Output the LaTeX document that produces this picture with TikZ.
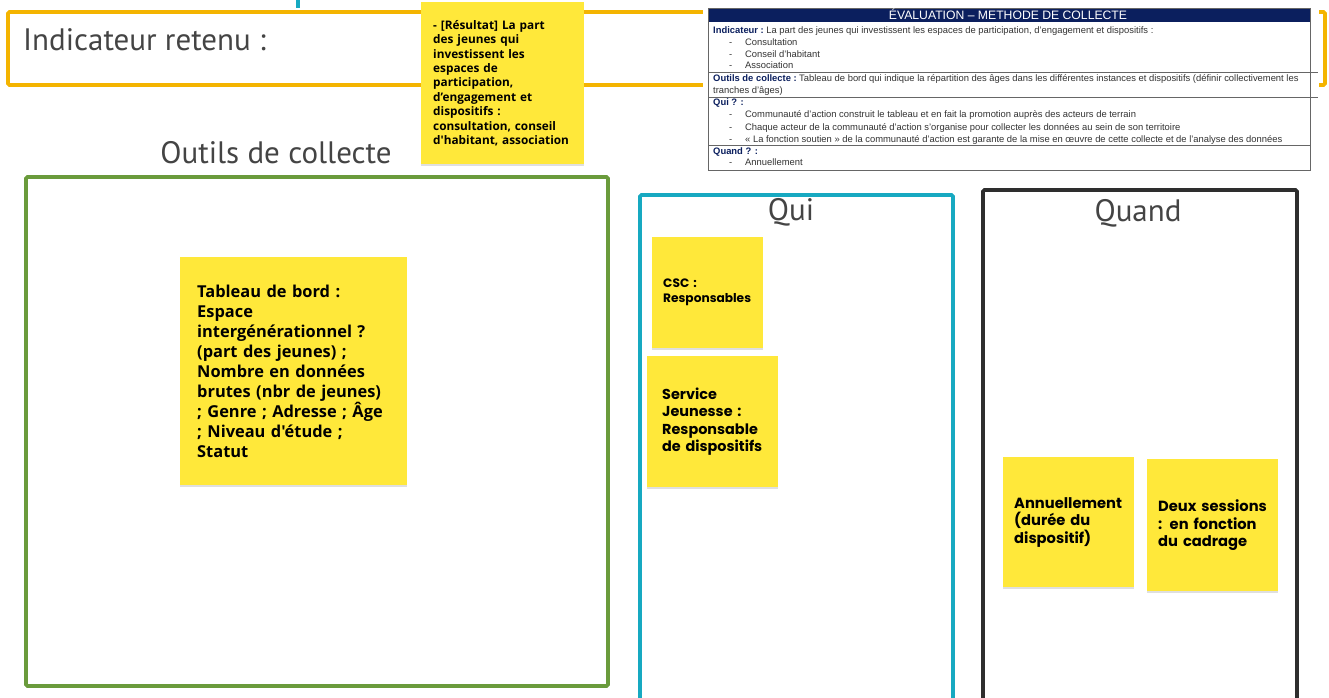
\documentclass[tikz,border=0pt]{standalone}
\usepackage{fontspec}
\setmainfont{Open Sans}
\newfontfamily\titrefont{PT Sans}
\newfontfamily\postfont{Poppins}
\newfontfamily\postfontb{Open Sans}
\newfontfamily\tabfont{Liberation Sans}
\usetikzlibrary{positioning, shadows}
\definecolor{jaune}{HTML}{FFE83A}
\definecolor{orangeC}{HTML}{F4B400}
\definecolor{vertC}{HTML}{6A9B3C}
\definecolor{bleuC}{HTML}{17A9C1}
\definecolor{noirC}{HTML}{2E2E2E}
\definecolor{marine}{HTML}{0B1F5E}
\definecolor{gris}{HTML}{444444}

\begin{document}
\begin{tikzpicture}[x=1pt, y=-1pt,
        cadre/.style={line width=3.6pt, rounded corners=1.5pt},
        titre/.style={text=gris, font=\titrefont\fontsize{31}{33}\selectfont, inner sep=0},
        post/.style={fill=jaune, anchor=north west, align=left, inner sep=0,
            execute at begin node={\hyphenpenalty=10000\relax},
            drop shadow={opacity=0.25, shadow xshift=0pt, shadow yshift=-1.5pt}},
        tx/.style={anchor=base west, inner sep=0, text=black!80, font=\tabfont\fontsize{9.4}{11}\selectfont},
        lab/.style={tx, text=marine, font=\tabfont\bfseries\fontsize{9.4}{11}\selectfont}]
        \useasboundingbox (0,0) rectangle (1329,697);
        \clip (0,0) rectangle (1329,697);

        % cadres
        \draw[bleuC, line width=3.6pt] (298,-2) -- (298,8);
        \draw[cadre, orangeC] (8,12) rectangle (1325,85);
        \draw[cadre, vertC] (26,177) rectangle (608,686);
        \draw[cadre, bleuC] (640,195) rectangle (953,720);
        \draw[cadre, noirC] (983,190) rectangle (1297,720);

        \draw node[titre, anchor=base west] (ind) at (23,50) {Indicateur retenu :};
        \draw node[titre, anchor=base] (outils) at (276,163) {Outils de collecte};
        \draw node[titre, anchor=base] (qui) at (791,220) {Qui};
        \draw node[titre, anchor=base] (quand) at (1138,221) {Quand};

        % tableau evaluation
        \fill[white] (703,5) rectangle (1319,173);
        \fill[marine] (708,8) rectangle (1310,22);
        \draw[gray!80!black, line width=0.8pt] (708,8) rectangle (1310,170);
        \draw[gray!80!black, line width=0.8pt] (708,72) -- (1318,72) (708,97) -- (1318,97) (708,145) -- (1310,145);
        \draw node[anchor=base, inner sep=0, text=white, font=\tabfont\fontsize{12.2}{13}\selectfont] (titre) at (1008,19.5) {ÉVALUATION – METHODE DE COLLECTE};

        \draw node[lab] (l1) at (713,33) {Indicateur :} node[tx, right=2pt of l1.base east, anchor=base west] {La part des jeunes qui investissent les espaces de participation, d’engagement et dispositifs :};
        \foreach \y/\t in {45/Consultation, 57/Conseil d’habitant, 68/Association, 117/Communauté d’action construit le tableau et en fait la promotion auprès des acteurs de terrain, 130/Chaque acteur de la communauté d’action s’organise pour collecter les données au sein de son territoire, 142/{« La fonction soutien » de la communauté d’action est garante de la mise en œuvre de cette collecte et de l’analyse des données}, 165/Annuellement}
        \draw node[tx] (d\y) at (729,\y) {-} node[tx] (b\y) at (745,\y) {\t};

        \draw node[lab] (l2) at (713,81) {Outils de collecte :} node[tx, right=2pt of l2.base east, anchor=base west] {Tableau de bord qui indique la répartition des âges dans les différentes instances et dispositifs (définir collectivement les};
        \draw node[tx] (l2b) at (713,93) {tranches d’âges)};
        \draw node[lab] (l3) at (713,105) {Qui ? :};
        \draw node[lab] (l4) at (713,154) {Quand ? :};

        % post-it
        \draw node[post, minimum width=163, minimum height=162, text width=139,
            font=\postfontb\bfseries\fontsize{11.8}{14.4}\selectfont] (res) at (421,2)
            {- [Résultat] La part\\des jeunes qui\\investissent les\\espaces de\\participation,\\d’engagement et\\dispositifs :\\consultation, conseil\\d'habitant, association};
        \draw node[post, minimum width=227, minimum height=228, text width=193,
            font=\postfontb\bfseries\fontsize{16.4}{20}\selectfont] (tab) at (180,257)
            {Tableau de bord :\\Espace\\intergénérationnel ?\\(part des jeunes) ;\\Nombre en données\\brutes (nbr de jeunes)\\; Genre ; Adresse ; Âge\\; Niveau d'étude ;\\Statut};
        \draw node[post, minimum width=111, minimum height=111, text width=89,
            font=\postfont\bfseries\fontsize{12.2}{15}\selectfont] (csc) at (652,237) {CSC :\\Responsables};
        \draw node[post, minimum width=131, minimum height=131, text width=101,
            font=\postfont\bfseries\fontsize{14.4}{17.5}\selectfont] (sj) at (647,356) {Service\\Jeunesse :\\Responsable\\de~dispositifs};
        \draw node[post, minimum width=131, minimum height=130, text width=109,
            font=\postfont\bfseries\fontsize{14.7}{17.5}\selectfont] (ann) at (1003,457) {Annuellement\\(durée du\\dispositif)};
        \draw node[post, minimum width=131, minimum height=132, text width=109,
            font=\postfont\bfseries\fontsize{14.7}{17.5}\selectfont] (deux) at (1147,459) {Deux sessions\\: en fonction\\du cadrage};
\end{tikzpicture}
\end{document}
